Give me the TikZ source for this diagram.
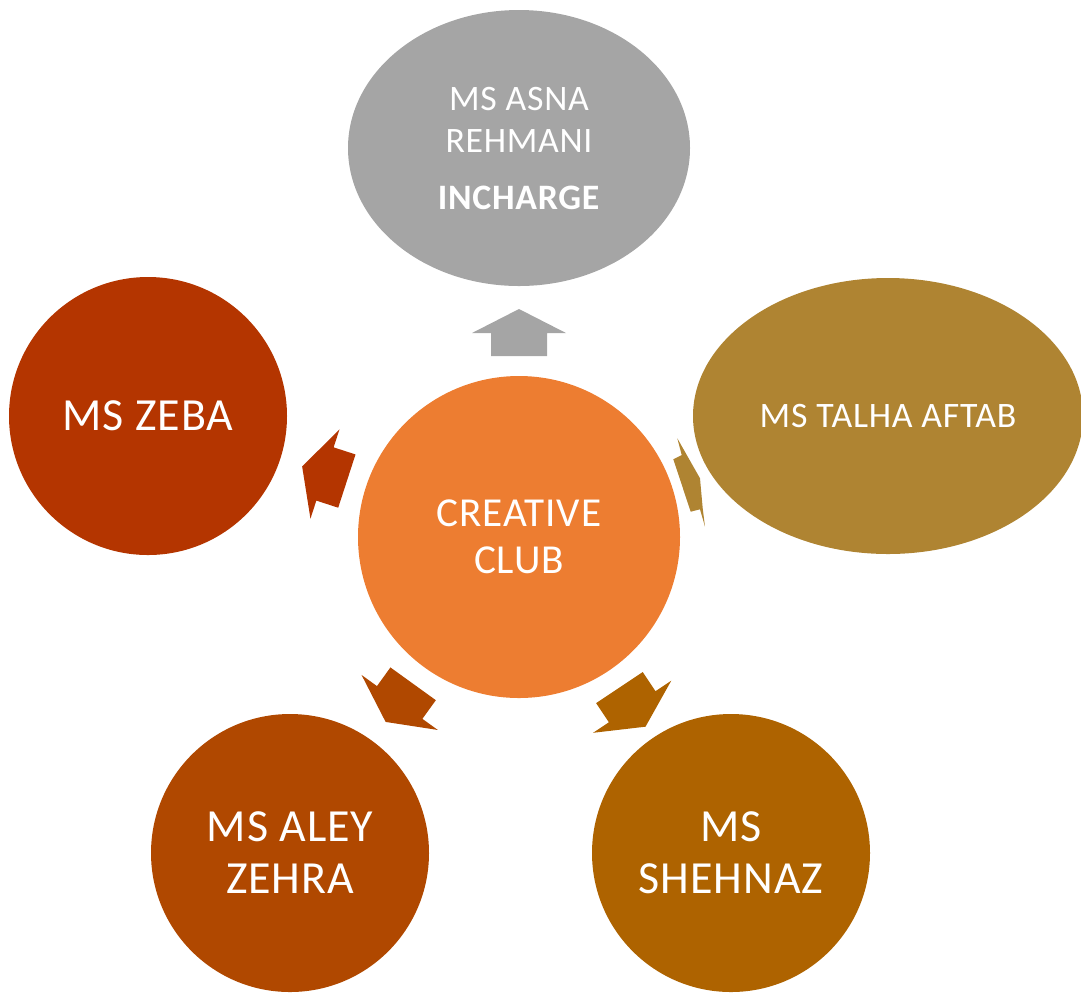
\documentclass[tikz,border=0pt]{standalone}
\usepackage{fontspec}
\setmainfont{Carlito}[LetterSpace=2]
\usepackage{tikz}
\usetikzlibrary{shapes.geometric}
\definecolor{clubcol}{HTML}{ED7D31}
\definecolor{asnacol}{HTML}{A5A5A5}
\definecolor{talhacol}{HTML}{AF8432}
\definecolor{zebacol}{HTML}{B43500}
\definecolor{aleycol}{HTML}{B04800}
\definecolor{shehnazcol}{HTML}{AE6300}
\tikzset {
  % centre circle
  hub/.style = {circle, minimum size=161pt, inner sep=0pt, fill=clubcol,
    text=white, align=center, font=\fontsize{20.6}{23.5}\selectfont},
  % round members
  member/.style = {circle, minimum size=139pt, inner sep=0pt,
    text=white, align=center, font=\fontsize{23}{26}\selectfont},
  % oval members
  oval/.style = {ellipse, inner sep=0pt, minimum height=138pt,
    text=white, align=center, font=\fontsize{17.9}{21}\selectfont},
}

\begin{document}
\begin{tikzpicture}[x=0.5pt, y=0.5pt]
        \useasboundingbox (0,0) rectangle (1081,-993);

        \node[hub] (club) at (519,-537) {CREATIVE\\CLUB};

        \node[oval, fill=asnacol, minimum width=171pt] (asna) at (519,-148)
          {MS ASNA\\REHMANI\\[7.5pt]\textbf{INCHARGE}};
        \node[oval, fill=talhacol, minimum width=195pt] (talha) at (888,-416) {MS TALHA AFTAB};
        \node[member, fill=zebacol] (zeba) at (148,-416) {MS ZEBA};
        \node[member, fill=aleycol] (aley) at (290,-853) {MS ALEY\\ZEHRA};
        \node[member, fill=shehnazcol] (shehnaz) at (731,-853) {MS\\SHEHNAZ};

        % block arrows from the club
        \foreach \a/\c in {90/asnacol, 162/zebacol, 234.2/aleycol, 303.7/shehnazcol} {
          \begin{scope}[shift={(club.center)}, rotate=\a]
            \fill[\c] (181,-28) -- (204,-28) -- (204,-47) -- (228,0)
              -- (204,47) -- (204,28) -- (181,28) -- cycle;
          \end{scope}
        }
        \fill[talhacol] (677.3,-438.3) -- (700,-478.3) -- (702.7,-508.3) -- (705,-526.7)
          -- (700,-509.3) -- (690.7,-511.7) -- (673.3,-459.3) -- (681.7,-455) -- cycle;
      \end{tikzpicture}
\end{document}
